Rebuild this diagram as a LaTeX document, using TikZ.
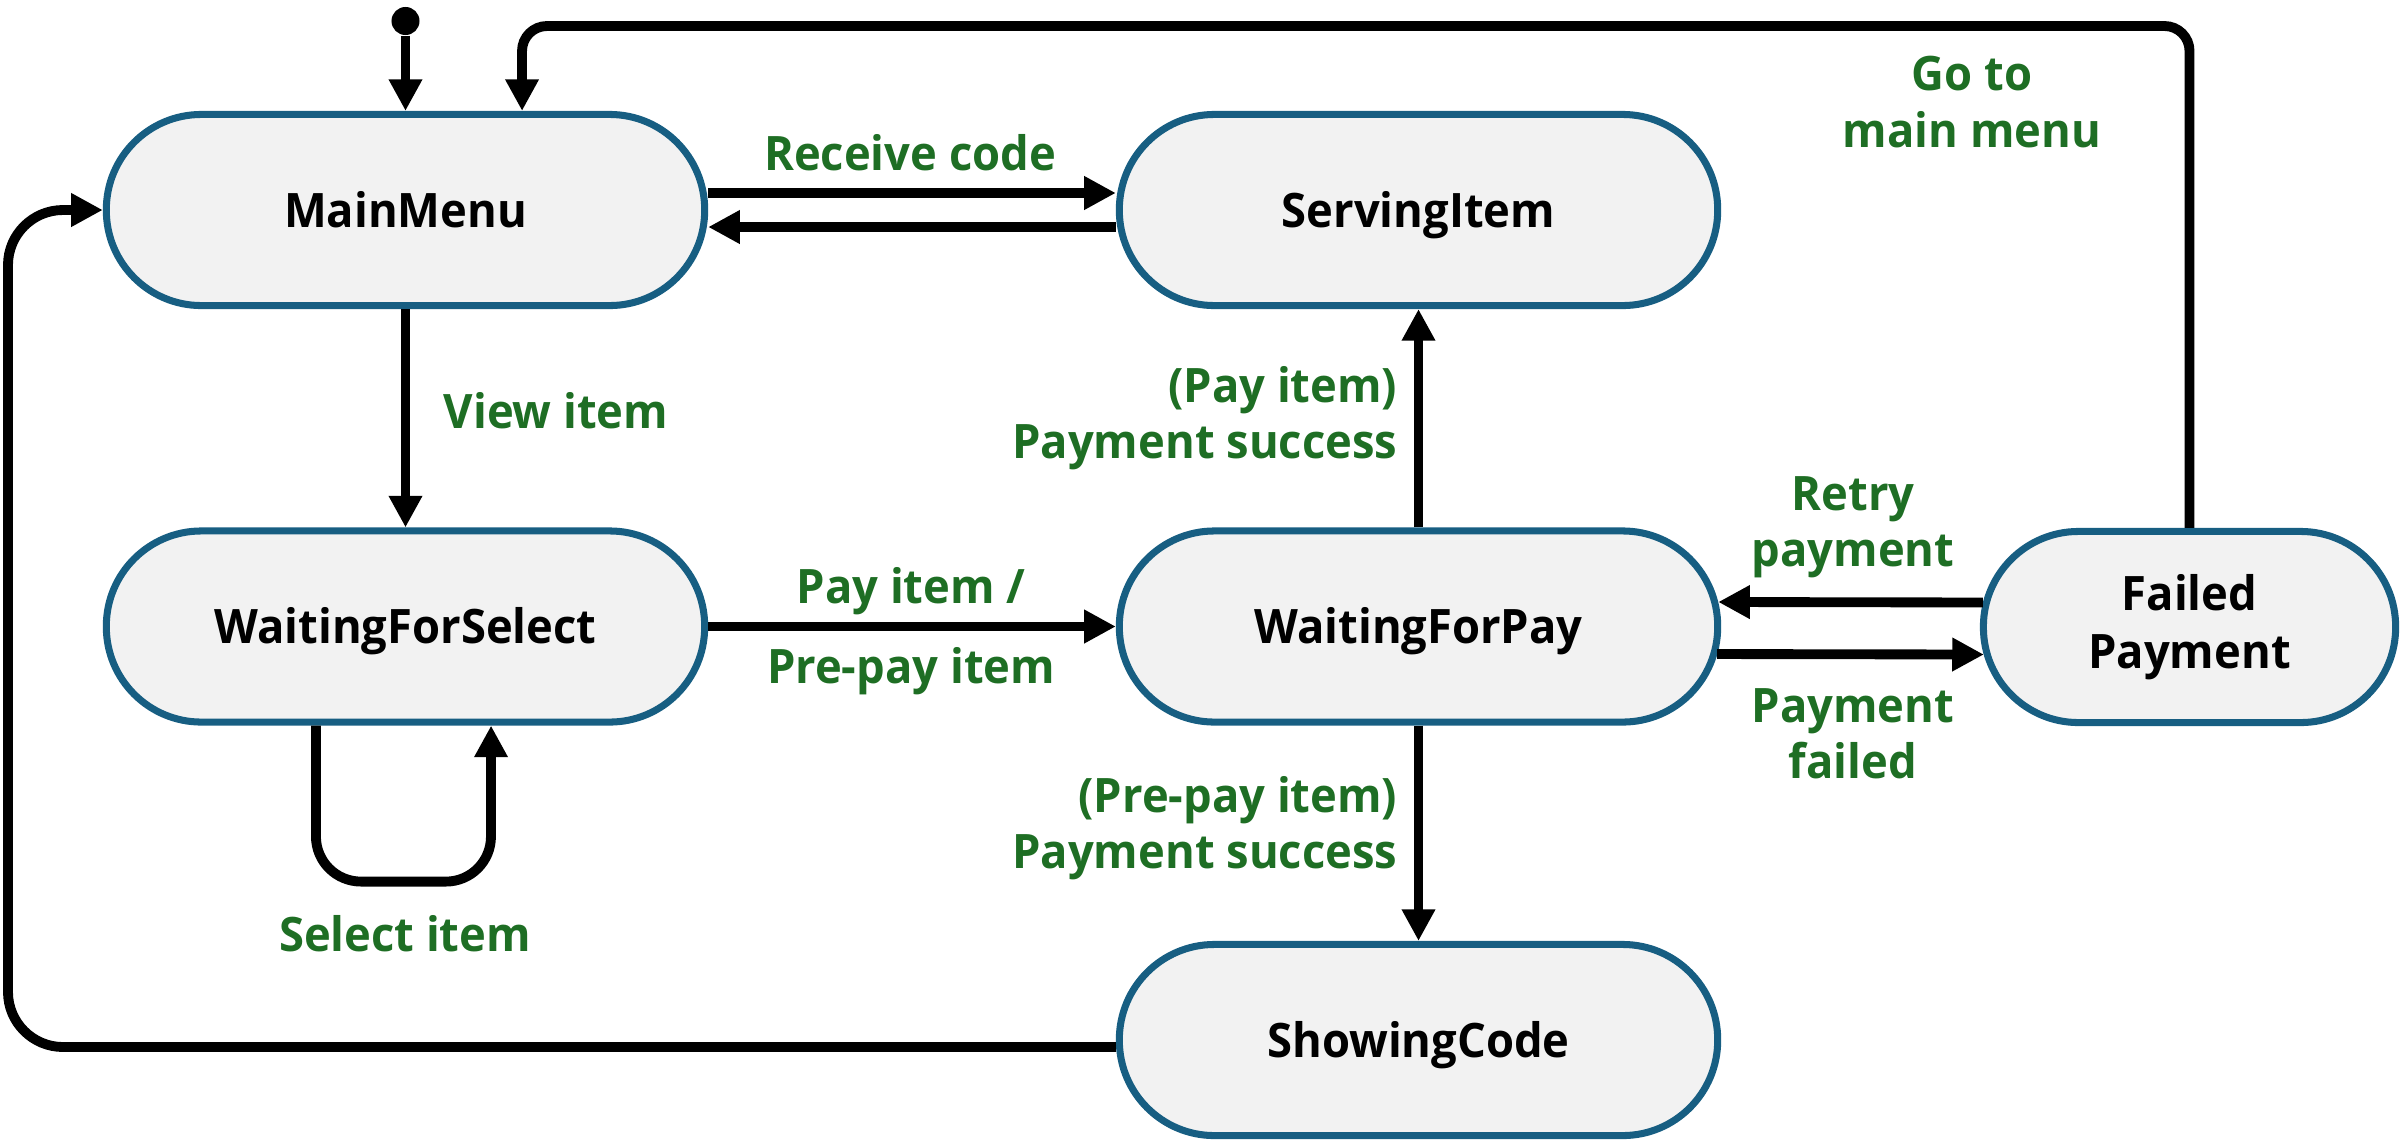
\documentclass[tikz,border=0pt]{standalone}
\usepackage{fontspec}
\setmainfont{Open Sans}[FakeStretch=0.955]
\usetikzlibrary{arrows.meta}
\definecolor{stb}{RGB}{23,94,130}
\definecolor{stf}{RGB}{242,242,242}
\definecolor{lbl}{RGB}{30,110,36}
\begin{document}
\begin{tikzpicture}[x=0.01cm,y=-0.01cm,
  state/.style={draw=stb, line width=2pt, fill=stf, rectangle, rounded corners=0.95cm,
    minimum width=5.98cm, minimum height=1.91cm, inner sep=0pt,
    font=\fontsize{13.5}{16.5}\selectfont\bfseries, align=center},
  oneline/.style={text height=0.37cm, text depth=0.03cm},
  conn/.style={line width=2.8pt, -{Triangle[length=9pt,width=9pt]}},
  lab/.style={text=lbl, font=\fontsize{13.5}{16}\selectfont\bfseries, align=center, inner sep=0pt}]
\useasboundingbox (0,0) rectangle (2407,1139);

\node[state, oneline] (MM) at (405.5,210) {MainMenu};
\node[state, oneline] (SI) at (1418.5,210) {ServingItem};
\node[state, oneline] (WS) at (405.5,626.5) {WaitingForSelect};
\node[state, oneline] (WP) at (1418.5,626.5) {WaitingForPay};
\node[state, minimum width=4.12cm] (FP) at (2189.5,627) {Failed\\Payment};
\node[state, oneline] (SC) at (1418.5,1040) {ShowingCode};

\node[circle, fill=black, inner sep=0pt, minimum size=0.28cm] (init) at (405.5,21) {};
\draw[conn] (init) -- (MM);

\draw[conn, rounded corners=0.25cm] (FP.north) |- (522,26) -- ([xshift=1.165cm]MM.north);
\draw[conn] ([yshift=0.17cm]MM.east) -- ([yshift=0.17cm]SI.west);
\draw[conn] ([yshift=-0.17cm]SI.west) -- ([yshift=-0.17cm]MM.east);
\draw[conn] (MM) -- (WS);
\draw[conn, rounded corners=0.45cm] ([xshift=-0.895cm]WS.south) -- ++(0,156) -- ++(175,0) -- ([xshift=0.855cm]WS.south);
\draw[conn] (WS) -- (WP);
\draw[conn] (WP) -- (SI);
\draw[conn] (WP) -- (SC);
\draw[conn] ([xshift=0.03cm,yshift=0.245cm]FP.west) -- ([xshift=-0.03cm,yshift=0.245cm]WP.east);
\draw[conn] ([xshift=-0.04cm,yshift=-0.275cm]WP.east) -- ([xshift=0.04cm,yshift=-0.275cm]FP.west);
\draw[conn, rounded corners=0.55cm] ([yshift=-0.07cm]SC.west) -- (8,1047) |- (MM.west);

\node[lab] (lRC) at (910,153) {Receive code};
\node[lab, anchor=west] (lVI) at (443,411) {View item};
\node[lab] (lPI) at (911,591) {Pay item /};
\node[lab] (lPP) at (911,671) {Pre-pay item};
\node[lab, anchor=east, align=right] (lPS) at (1398,418) {(Pay item)\\Payment success};
\node[lab, anchor=east, align=right] (lPPS) at (1398,828) {(Pre-pay item)\\Payment success};
\node[lab] (lRP) at (1853,527) {Retry\\payment};
\node[lab] (lPF) at (1853,734) {Payment\\failed};
\node[lab] (lGM) at (1972,102) {Go to\\main menu};
\node[lab] (lSI) at (405,934) {Select item};
\end{tikzpicture}
\end{document}
